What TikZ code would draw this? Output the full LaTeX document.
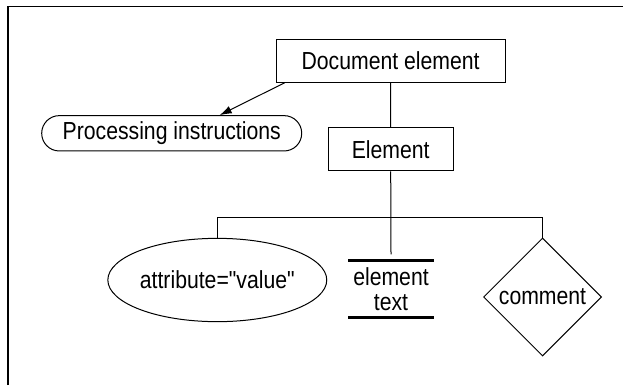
\documentclass[tikz,border=0pt]{standalone}
\usepackage{fontspec}
\setmainfont{Liberation Sans}[FakeStretch=0.86,Ligatures=TeXOff]
\usetikzlibrary{shapes.geometric,arrows.meta}

\tikzset{every picture/.style={line width=0.75pt}}
\tikzset{
	box/.style={draw,rectangle,inner sep=0pt},
	label/.style={font=\fontsize{18.5}{20}\selectfont},
	bar/.style={line width=2pt},
}

\begin{document}
\begin{tikzpicture}[x=0.75pt,y=0.75pt,yscale=-1,xscale=1]
	\useasboundingbox (0,0) rectangle (623,385);
	%Straight Lines: frame
	\draw [line width=1pt]  (8,385) -- (8,6.7) -- (623,6.7) ;

	% Text Node
	\node [box,label,minimum width=171.75pt,minimum height=32.25pt] (doc) at (390.6,60.8) {Document element};
	% Text Node
	\node [box,label,rounded corners=13.2pt,minimum width=195pt,minimum height=26.5pt] (proc) at (171.7,133.3) {Processing instructions};
	% Text Node
	\node [box,label,minimum width=93.75pt,minimum height=32.5pt] (elem) at (390.7,149.3) {Element};
	% Shape: Ellipse
	\node [draw,ellipse,label,inner sep=0pt,minimum width=137pt,minimum height=62.5pt] (attr) at (217.3,280) {attribute="value"};
	% Text Node
	\node [label,align=center,inner sep=0pt,minimum width=63.75pt,minimum height=42.2pt] (etext) at (391,289) {element\\[-1pt]text};
	% Shape: Diamond
	\node [draw,diamond,label,inner sep=0pt,minimum width=88.5pt,minimum height=88.5pt] (cmt) at (542.5,297) {comment};

	\coordinate (fork) at (390.7,217.3);

	%Straight Lines
	\draw [-{Latex[length=9pt,width=6pt]}]  ([xshift=6.75pt]doc.south west) -- ([xshift=36pt]proc.north) ;
	%Straight Lines
	\draw    (doc.south) -- (elem.north) ;
	%Straight Lines
	\draw    (elem.south) -- ([yshift=-4.5pt]etext.north) ;
	%Straight Lines
	\draw    (attr.north) |- (fork) -| (cmt.north) ;
	%Straight Lines: text bars
	\draw [bar]  (etext.north west) -- (etext.north east) ;
	\draw [bar]  (etext.south west) -- (etext.south east) ;
\end{tikzpicture}
\end{document}
